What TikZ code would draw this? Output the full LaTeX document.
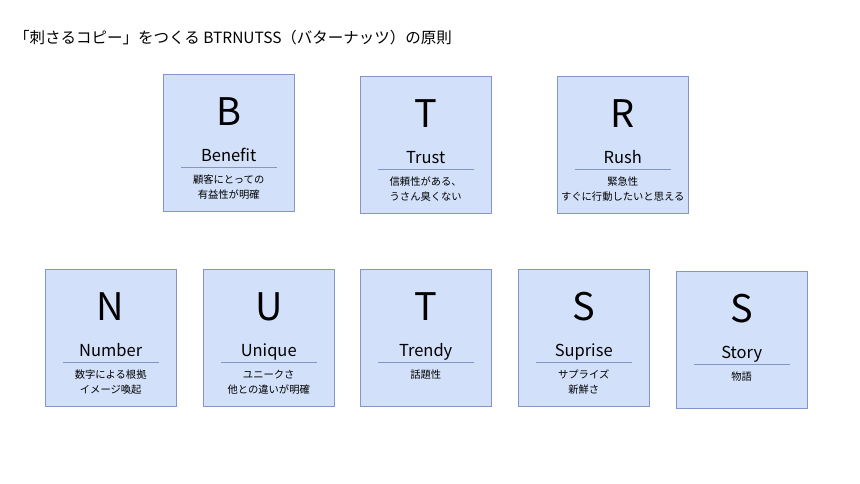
\documentclass[tikz,border=0pt]{standalone}
\usepackage{fontspec}
\setmainfont{Noto Sans CJK JP}
\usetikzlibrary{calc}
\definecolor{cardfill}{RGB}{210,224,250}
\definecolor{cardline}{RGB}{132,150,200}
\tikzset{card/.style={draw=cardline, fill=cardfill, minimum width=131pt, minimum height=137pt, inner sep=0pt, anchor=north west}}
\tikzset{letter/.style={anchor=base, inner sep=0pt, font=\fontsize{38}{38}\selectfont}}
\tikzset{word/.style={anchor=base, inner sep=0pt, font=\fontsize{16.5}{16.5}\selectfont}}
\tikzset{desc/.style={anchor=north, inner sep=0pt, align=center, font=\fontsize{10.3}{15}\selectfont}}
\tikzset{rule/.style={draw=cardline, line width=0.8pt}}
% #1 name, #2 x, #3 y, #4 letter, #5 word, #6 text
\newcommand{\card}[6]{%
  \node[card] (#1) at (#2,#3) {};
  \node[letter] (#1-letter) at ($(#1.north)+(0,51)$) {#4};
  \node[word] (#1-word) at ($(#1.north)+(0,87)$) {#5};
  \coordinate (#1-a) at ($(#1.north west)+(18,93)$);
  \coordinate (#1-b) at ($(#1.north east)+(-17,93)$);
  \draw[rule] (#1-a) -- (#1-b);
  \node[desc] (#1-text) at ($(#1.north)+(0,101)$) {#6};
}

\begin{document}
\begin{tikzpicture}[x=1pt, y=-1pt]
  \useasboundingbox (0,0) rectangle (860,483);
  % Title
  \node[anchor=west, inner sep=0pt, font=\fontsize{15.5}{15.5}\selectfont] (title) at (14,38)
    {「刺さるコピー」をつくる BTRNUTSS（バターナッツ）の原則};

  % Upper row
  \card{benefit}{163}{74}{B}{Benefit}{顧客にとっての\\有益性が明確}
  \card{trust}{360}{76}{T}{Trust}{信頼性がある、\\うさん臭くない}
  \card{rush}{557}{76}{R}{Rush}{緊急性\\すぐに行動したいと思える}

  % Lower row
  \card{number}{45}{269}{N}{Number}{数字による根拠\\イメージ喚起}
  \card{unique}{203}{269}{U}{Unique}{ユニークさ\\他との違いが明確}
  \card{trendy}{360}{269}{T}{Trendy}{話題性}
  \card{suprise}{518}{269}{S}{Suprise}{サプライズ\\新鮮さ}
  \card{story}{676}{271}{S}{Story}{物語}
\end{tikzpicture}
\end{document}
